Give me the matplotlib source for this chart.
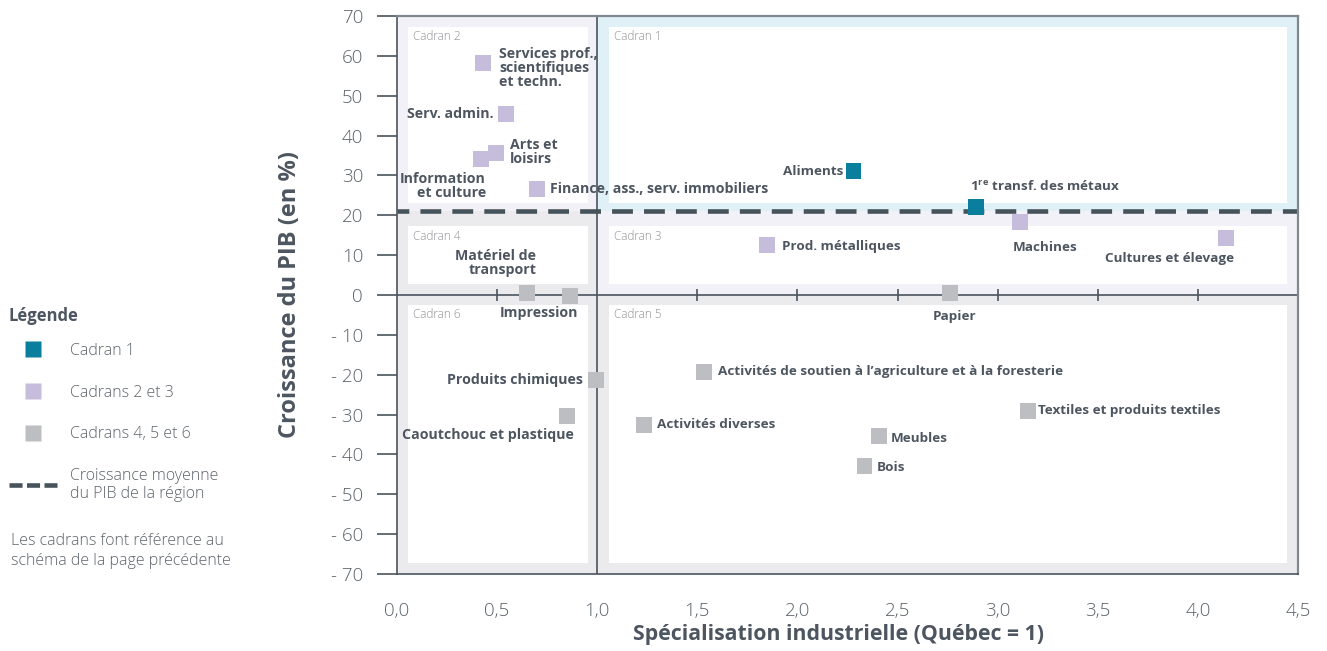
import matplotlib
matplotlib.use('Agg')
import matplotlib.pyplot as plt
from matplotlib.patches import Rectangle
from matplotlib.lines import Line2D

plt.rcParams['font.family'] = ['Open Sans', 'DejaVu Sans']
plt.rcParams['lines.scale_dashes'] = False
plt.rcParams['mathtext.fontset'] = 'custom'
plt.rcParams['mathtext.rm'] = 'Open Sans:bold'
plt.rcParams['mathtext.it'] = 'Open Sans:bold'
plt.rcParams['mathtext.bf'] = 'Open Sans:bold'

# ---------------- data ----------------
secteurs = [
    "Services prof.,\nscientifiques\net techn.",
    "Serv. admin.",
    "Arts et\nloisirs",
    "Information\net culture",
    "Finance, ass., serv. immobiliers",
    "Aliments",
    "1$^{re}$ transf. des métaux",
    "Machines",
    "Cultures et élevage",
    "Prod. métalliques",
    "Papier",
    "Matériel de\ntransport",
    "Impression",
    "Produits chimiques",
    "Caoutchouc et plastique",
    "Activités de soutien à l’agriculture et à la foresterie",
    "Activités diverses",
    "Textiles et produits textiles",
    "Meubles",
    "Bois",
]
specialisation = [0.43, 0.545, 0.495, 0.42, 0.70, 2.28, 2.89, 3.11, 4.14, 1.85,
                  2.76, 0.65, 0.865, 0.995, 0.85, 1.535, 1.235, 3.15, 2.405, 2.335]
croissance = [58.2, 45.4, 35.6, 34.1, 26.6, 31.1, 22.1, 18.3, 14.3, 12.5,
              0.5, 0.5, -0.3, -21.3, -30.4, -19.3, -32.6, -29.1, -35.4, -42.9]
groupe = [2, 2, 2, 2, 2, 1, 1, 2, 2, 2, 3, 3, 3, 3, 3, 3, 3, 3, 3, 3]

croissance_moyenne = 21.0
seuil_specialisation = 1.0

x_ticks = [0.0, 0.5, 1.0, 1.5, 2.0, 2.5, 3.0, 3.5, 4.0, 4.5]
x_tick_labels = ["0,0", "0,5", "1,0", "1,5", "2,0", "2,5", "3,0", "3,5", "4,0", "4,5"]
y_ticks = [70, 60, 50, 40, 30, 20, 10, 0, -10, -20, -30, -40, -50, -60, -70]
y_tick_labels = ["70", "60", "50", "40", "30", "20", "10", "0", "- 10", "- 20",
                 "- 30", "- 40", "- 50", "- 60", "- 70"]

legende_labels = ["Cadran 1", "Cadrans 2 et 3", "Cadrans 4, 5 et 6",
                  "Croissance moyenne\ndu PIB de la région"]

# ---------------- styles ----------------
couleurs = {1: '#0a7f9d', 2: '#c5bddb', 3: '#bcbec1'}
DARK = '#4a545d'
TXT = '#4d5660'
LEG_TXT = '#5d646b'
# label layout: (dx px, dy px, ha, va, font group)
layout = [
    (16, 16, 'left', 'top', 'L'),
    (-13, 0, 'right', 'center', 'L'),
    (14, 1, 'left', 'center', 'L'),
    (5, -27, 'right', 'center', 'L'),
    (13, 0, 'left', 'center', 'L'),
    (-10, 0, 'right', 'center', 'R'),
    (-6, 21, 'left', 'center', 'R'),
    (-7, -25, 'left', 'center', 'R'),
    (8, -20, 'right', 'center', 'R'),
    (15, -1, 'left', 'center', 'R'),
    (5, -23, 'center', 'center', 'R'),
    (9, 30, 'right', 'center', 'L'),
    (8, -17, 'right', 'center', 'L'),
    (-13, 0, 'right', 'center', 'L'),
    (7, -19, 'right', 'center', 'L'),
    (14, 0, 'left', 'center', 'R'),
    (13, 0, 'left', 'center', 'R'),
    (10, 0, 'left', 'center', 'R'),
    (12, -2, 'left', 'center', 'R'),
    (12, -2, 'left', 'center', 'R'),
]
fonts = {
    'L': dict(family=['Open Sans', 'DejaVu Sans'], weight='bold', size=10.2),
    'R': dict(family=['Open Sans', 'DejaVu Sans'], weight='bold', size=9.7),
}

W, H = 1327, 651
PXX, PXY = 901 / 4.5, 558 / 140.0
fig = plt.figure(figsize=(W / 100, H / 100), dpi=100)
ax = fig.add_axes([397 / W, 1 - 574 / H, 901 / W, 558 / H])
xmin, xmax, ymin, ymax = 0.0, 4.5, -70, 70
ax.set_xlim(xmin, xmax)
ax.set_ylim(ymin, ymax)

# quadrant backgrounds: (x0, x1, y0, y1, colour, name, margins px: left, right, bottom, top)
LAV, BLUE, GRAY = '#f2f1f7', '#dff0f6', '#ebebed'
regions = [
    (xmin, seuil_specialisation, croissance_moyenne, ymax, LAV, "Cadran 2", (11, 9, 8, 11)),
    (seuil_specialisation, xmax, croissance_moyenne, ymax, BLUE, "Cadran 1", (12, 11, 8, 11)),
    (xmin, seuil_specialisation, 0, croissance_moyenne, GRAY, "Cadran 4", (11, 9, 11, 15)),
    (seuil_specialisation, xmax, 0, croissance_moyenne, LAV, "Cadran 3", (12, 11, 11, 15)),
    (xmin, seuil_specialisation, ymin, 0, GRAY, "Cadran 6", (11, 9, 11, 10)),
    (seuil_specialisation, xmax, ymin, 0, GRAY, "Cadran 5", (12, 11, 11, 10)),
]
for (x0, x1, y0, y1, col, name, (ml, mr, mb, mt)) in regions:
    ax.add_patch(Rectangle((x0, y0), x1 - x0, y1 - y0, facecolor=col,
                           edgecolor='none', zorder=0))
    bx0, bx1 = x0 + ml / PXX, x1 - mr / PXX
    by0, by1 = y0 + mb / PXY, y1 - mt / PXY
    ax.add_patch(Rectangle((bx0, by0), bx1 - bx0, by1 - by0, facecolor='white',
                           edgecolor='none', zorder=0.5))
    ax.annotate(name, xy=(bx0, by1), xytext=(5, -10),
                textcoords='offset pixels', ha='left', va='center',
                fontsize=8.5, color='#8d8f92', fontweight='light', zorder=1)

# structure lines
ax.axvline(seuil_specialisation, color=DARK, lw=1.2, zorder=2)
ax.axhline(0, color=DARK, lw=1.2, zorder=2)
ax.vlines([t for t in x_ticks if t not in (0.0, 1.0, 4.5)], -1.5, 1.5,
          color=DARK, lw=1.2, zorder=2)
ax.axhline(croissance_moyenne, color='#46535b', lw=3.3, zorder=3,
           linestyle=(6.5, (15, 8)), dash_capstyle='butt')

# points
ax.scatter(specialisation, croissance, marker='s', s=132,
           c=[couleurs[g] for g in groupe], linewidths=0, zorder=5)

for nom, xv, yv, (dx, dy, ha, va, fg) in zip(secteurs, specialisation, croissance, layout):
    ax.annotate(nom, xy=(xv, yv), xytext=(dx, dy), textcoords='offset pixels',
                ha=ha, va=va, multialignment=ha,
                color=TXT, linespacing=1.0, zorder=6, **fonts[fg])

# axes styling
for s in ('left', 'bottom'):
    ax.spines[s].set_color(DARK)
    ax.spines[s].set_linewidth(1.2)
for s in ('top', 'right'):
    ax.spines[s].set_color('#80878d')
    ax.spines[s].set_linewidth(1.6)
for sp in ax.spines.values():
    sp.set_zorder(4)

ax.set_yticks(y_ticks, y_tick_labels)
ax.set_xticks(x_ticks, x_tick_labels)
ax.tick_params(axis='y', direction='out', length=14.4, width=1.2, color=DARK,
               pad=10, labelsize=13.5, labelcolor='#5a6168')
ax.tick_params(axis='x', length=0, pad=20, labelsize=13.5, labelcolor='#5a6168')
for lab in ax.get_xticklabels() + ax.get_yticklabels():
    lab.set_fontweight('light')

ax.set_xlabel("Spécialisation industrielle (Québec = 1)", fontsize=15.3,
              fontweight='bold', color=TXT, va='top')
ax.xaxis.set_label_coords(0.49, -(624 - 574) / 558)
ax.set_ylabel("Croissance du PIB (en %)", fontsize=17, fontweight='bold',
              color=TXT)
ax.yaxis.set_label_coords(-(397 - 302) / 901, 0.5)

# legend
fig.text(9 / W, 1 - 316 / H, "Légende", ha='left', va='center', fontsize=12,
         fontweight='bold', color=TXT)
handles = [Line2D([], [], ls='none', marker='s', ms=11.5, mfc=couleurs[g], mec='none')
           for g in (1, 2, 3)]
handles.append(Line2D([], [], color='#46535b', lw=3.3, linestyle=(0, (9.4, 3.2))))
leg = fig.legend(handles, legende_labels, loc='upper left',
                 bbox_to_anchor=(9 / W, 1 - 343 / H), bbox_transform=fig.transFigure,
                 frameon=False, borderpad=0, borderaxespad=0,
                 handlelength=3.0, handletextpad=0.85,
                 labelspacing=1.6, fontsize=11.5, labelcolor=LEG_TXT)
for t in leg.get_texts():
    t.set_fontweight('light')

fig.text(11 / W, 1 - 533 / H, "Les cadrans font référence au\nschéma de la page précédente",
         ha='left', va='top', fontsize=11.5, color=LEG_TXT, fontweight='light',
         linespacing=1.35)

fig.savefig('out.png', dpi=100)
